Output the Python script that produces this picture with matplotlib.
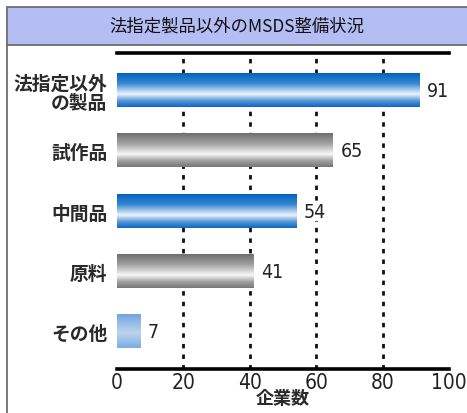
import numpy as np
import matplotlib
matplotlib.use("Agg")
import matplotlib.pyplot as plt
from matplotlib import font_manager
from matplotlib.patches import Rectangle
from matplotlib.lines import Line2D

plt.rcParams['font.family'] = ['Noto Sans CJK JP', 'DejaVu Sans']

title = "法指定製品以外のMSDS整備状況"
categories = ["法指定以外\nの製品", "試作品", "中間品", "原料", "その他"]
values = [91, 65, 54, 41, 7]
bar_styles = ["blue", "gray", "blue", "gray", "light"]
x_ticks = [0, 20, 40, 60, 80, 100]
x_label = "企業数"

# colour stops (position from top of bar, RGB) for the shaded bars
palettes = {
    "blue": [(0.0, (0, 100, 190)), (0.3, (55, 135, 212)), (0.62, (238, 244, 252)),
             (0.82, (85, 150, 215)), (1.0, (15, 105, 195))],
    "gray": [(0.0, (110, 110, 110)), (0.3, (160, 160, 160)), (0.62, (248, 248, 248)),
             (0.82, (160, 160, 160)), (1.0, (120, 120, 120))],
    "light": [(0.0, (115, 165, 222)), (0.55, (190, 212, 238)), (1.0, (125, 172, 225))],
}

# a narrow upright face for the numerals
names = {f.name for f in font_manager.fontManager.ttflist}
condensed = [f for f in font_manager.fontManager.ttflist
             if f.name == "DejaVu Sans" and f.stretch == "condensed" and f.style == "normal"]
condensed.sort(key=lambda f: abs((f.weight if isinstance(f.weight, int) else 400) - 400))
if "Liberation Sans Narrow" in names:
    num_font = dict(family="Liberation Sans Narrow")
elif condensed:
    num_font = dict(fname=condensed[0].fname)
else:
    num_font = dict(family="DejaVu Sans", stretch="condensed")


def num_props(size):
    if "fname" in num_font:
        return font_manager.FontProperties(fname=num_font["fname"], size=size)
    return font_manager.FontProperties(size=size, **num_font)


def gradient(stops, n=64):
    t = np.linspace(0, 1, n)
    pos = [s[0] for s in stops]
    rgb = np.array([s[1] for s in stops], dtype=float) / 255.0
    cols = np.stack([np.interp(t, pos, rgb[:, k]) for k in range(3)], axis=1)
    return cols[:, None, :]


W, H = 467, 414
fig = plt.figure(figsize=(W / 100, H / 100), dpi=100)
fig.patch.set_facecolor("white")

# title band and frame
fig.patches.append(Rectangle((7 / W, 1 - 46 / H), 1 - 7 / W + 0.01, 38 / H,
                             transform=fig.transFigure, facecolor="#b4bdf4",
                             edgecolor="#6e6e6e", linewidth=1.3))
fig.lines.append(Line2D([7 / W, 7 / W], [0, 1 - 46 / H], transform=fig.transFigure,
                        color="#6e6e6e", linewidth=1.3))
fig.text(237 / W, 1 - 27 / H, title, ha="center", va="center", fontsize=12.5, color="#111111")

ax = fig.add_axes([117 / W, 1 - 370 / H, (449 - 117) / W, (370 - 54) / H])
ax.set_facecolor("white")

bar_h = 0.55
ypos = np.arange(len(categories))
for y, v, st in zip(ypos, values, bar_styles):
    ax.imshow(gradient(palettes[st]), extent=[0, v, y + bar_h / 2, y - bar_h / 2],
              aspect="auto", interpolation="bilinear", zorder=3)
    ax.text(v + 2.3, y, str(v), ha="left", va="center", fontproperties=num_props(14),
            color="#222222", zorder=4,
            bbox=dict(facecolor="white", edgecolor="none", pad=0.5))

ax.set_xlim(0, 100)
ax.set_ylim(len(categories) - 1 + 0.63, -0.63)

for gx in x_ticks[1:-1]:
    ax.axvline(gx, color="#111111", linestyle=(0, (1.6, 2.2)), linewidth=2.0, zorder=1)

ax.set_xticks(x_ticks)
ax.set_xticklabels([str(t) for t in x_ticks])
for lab in ax.get_xticklabels():
    lab.set_fontproperties(num_props(15))
    lab.set_color("#222222")
ax.tick_params(axis="x", length=0, pad=2)
ax.set_yticks(ypos)
ax.set_yticklabels(categories, fontsize=13.5, fontweight="bold", linespacing=1.0)
ax.tick_params(axis="y", length=0, pad=7, colors="#2a2a2a")
ax.set_xlabel(x_label, fontsize=13, labelpad=-3, fontweight="bold", color="#2a2a2a")

for side in ("left", "right"):
    ax.spines[side].set_visible(False)
for side in ("top", "bottom"):
    ax.spines[side].set_linewidth(2.6)
    ax.spines[side].set_color("black")

fig.savefig("out.png", dpi=100)
